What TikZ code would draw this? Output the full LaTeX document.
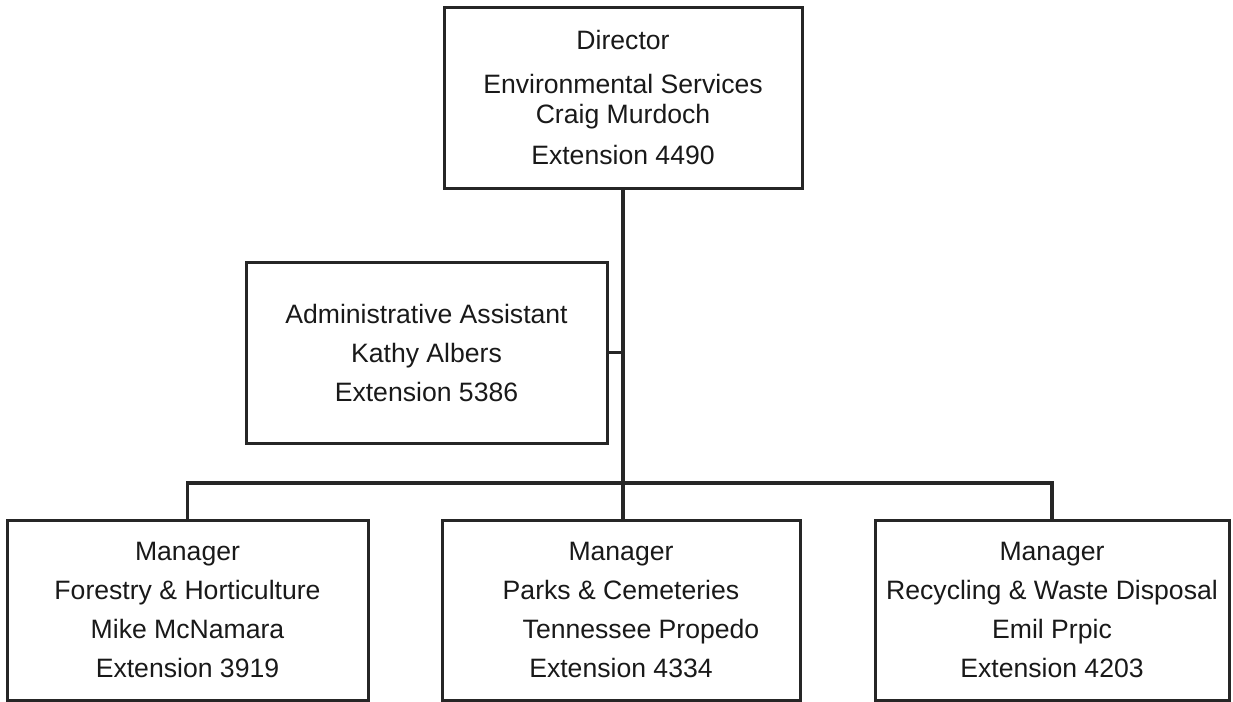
\documentclass[tikz,border=0pt]{standalone}
\usepackage{fontspec}
\setmainfont{Liberation Sans}
\begin{document}
\begin{tikzpicture}[x=0.5pt,y=-0.5pt,
  box/.style={draw=black!85, line width=1.5pt, inner sep=0pt, align=center,
    font=\fontsize{13.3pt}{19.5pt}\selectfont, text=black!90},
  link/.style={draw=black!85, line width=1.6pt}]
\useasboundingbox (0,0) rectangle (1233,702);
\node[box, minimum width=179pt, minimum height=90.5pt,
  font=\fontsize{13.3pt}{15pt}\selectfont] (dir) at (623,97.5)
  {Director\\[7pt]Environmental Services\\Craig Murdoch\\[5.5pt]Extension 4490};
\node[box, minimum width=180.5pt, minimum height=90.5pt] (adm) at (426.5,352.5)
  {Administrative Assistant\\Kathy Albers\\Extension 5386};
\node[box, minimum width=180.5pt, minimum height=90pt] (fl) at (187.5,610)
  {Manager\\Forestry \& Horticulture\\Mike McNamara\\Extension 3919};
\node[box, minimum width=179pt, minimum height=90pt] (pc) at (621,610)
  {Manager\\Parks \& Cemeteries\\\hspace*{20pt}Tennessee Propedo\\Extension 4334};
\node[box, minimum width=177pt, minimum height=90pt] (rw) at (1052,610)
  {Manager\\Recycling \& Waste Disposal\\Emil Prpic\\Extension 4203};
\coordinate (bar) at (622,483);
\draw[link] (dir.south) -- (dir.south |- pc.north);
\draw[link] (adm.east) -- (adm.east -| dir.south);
\draw[link] (fl.north) -- (fl.north |- bar) -- (rw.north |- bar) -- (rw.north);
\end{tikzpicture}
\end{document}
